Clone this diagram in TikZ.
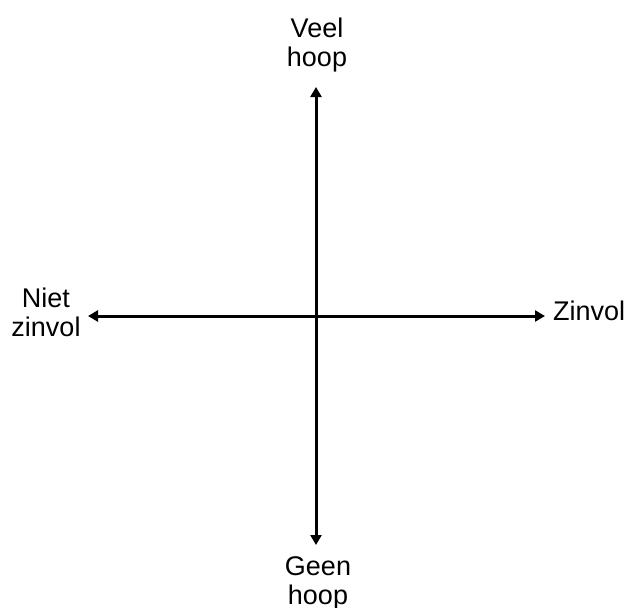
\documentclass[tikz,border=0pt]{standalone}
\usepackage{fontspec}
\setmainfont{Liberation Sans}
\usetikzlibrary{arrows.meta}
\begin{document}
\begin{tikzpicture}[x=1pt,y=-1pt,
  axis/.style={line width=3pt,{Triangle[length=10pt,width=11pt]}-{Triangle[length=10pt,width=11pt]}},
  lbl/.style={inner sep=0pt,align=center,font=\fontsize{27}{29}\selectfont}]
\useasboundingbox (0,0) rectangle (630,608);
\coordinate (top) at (316,87);
\coordinate (bottom) at (316,545);
\coordinate (left) at (88,316);
\coordinate (right) at (545,316);
\draw[axis] (top) -- (bottom);
\draw[axis] (left) -- (right);
\node[lbl,anchor=north] (veel) at (317,17.5) {Veel\\hoop};
\node[lbl,anchor=north] (niet) at (46,287.5) {Niet\\zinvol};
\node[lbl,anchor=north] (geen) at (318,556) {Geen\\hoop};
\node[lbl,anchor=base west] (zin) at (553,320) {Zinvol};
\end{tikzpicture}
\end{document}
